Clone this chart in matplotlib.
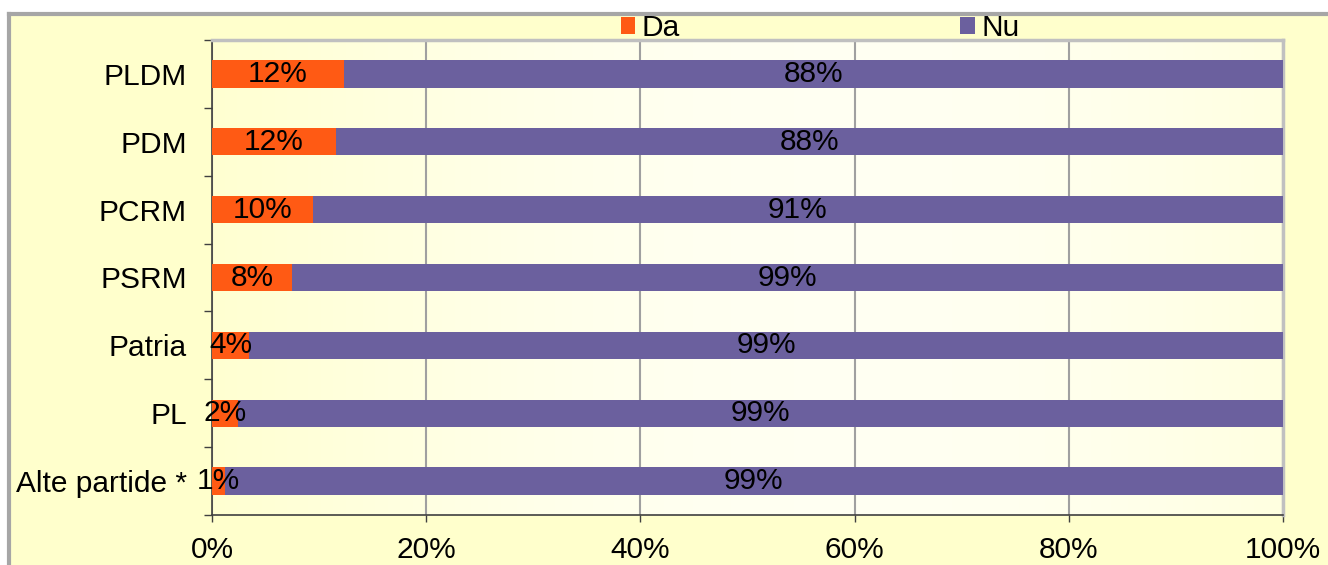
import matplotlib
matplotlib.use("Agg")
import matplotlib.pyplot as plt
import numpy as np
from matplotlib.lines import Line2D
from matplotlib.patches import Rectangle

plt.rcParams["font.family"] = ["Liberation Sans", "DejaVu Sans"]

# data, top row first
parties = ["PLDM", "PDM", "PCRM", "PSRM", "Patria", "PL", "Alte partide *"]
da_share = [12.3, 11.6, 9.4, 7.5, 3.5, 2.4, 1.2]
nu_share = [100 - v for v in da_share]
da_labels = ["12%", "12%", "10%", "8%", "4%", "2%", "1%"]
nu_labels = ["88%", "88%", "91%", "99%", "99%", "99%", "99%"]
x_ticks = [0, 20, 40, 60, 80, 100]

DA_COLOR = "#FF5A14"
NU_COLOR = "#6B609E"
BG_COLOR = "#FFFFCC"
FS = 21.5

W, H = 1328, 565
fig = plt.figure(figsize=(W / 100, H / 100), dpi=100, facecolor="white")

# outer chart area, its border only shows on the left and top
x0, y0 = 9 / W, 1 - 14 / H
fig.patches.append(Rectangle((x0, -0.05), 1.05 - x0, y0 + 0.05, transform=fig.transFigure,
                             facecolor=BG_COLOR, edgecolor="none", linewidth=0, zorder=-10))
fig.lines.append(Line2D([x0, x0], [-0.05, y0], transform=fig.transFigure,
                        color="#A6A6A6", linewidth=3, zorder=-9))
fig.lines.append(Line2D([x0, 1.05], [y0, y0], transform=fig.transFigure,
                        color="#A6A6A6", linewidth=3, zorder=-9))

ax = fig.add_axes([212 / W, 50 / H, (1283 - 212) / W, (515 - 40) / H])
ax.set_facecolor("none")

y = np.arange(len(parties))
ax.set_xlim(0, 100)
ax.set_ylim(len(parties) - 0.5, -0.5)

# light gradient behind the bars
grad = np.linspace(0, 1, 256)
b = 0.82 + 0.13 * np.sin(grad * np.pi * 0.85)
img = np.dstack([np.ones_like(grad), np.ones_like(grad), b])
ax.imshow(img, extent=[0, 100, len(parties) - 0.5, -0.5], aspect="auto", zorder=0)

bh = 0.4
bars_da = ax.barh(y, da_share, height=bh, color=DA_COLOR, label="Da", zorder=3)
bars_nu = ax.barh(y, nu_share, left=da_share, height=bh, color=NU_COLOR, label="Nu", zorder=3)
ax.bar_label(bars_da, labels=da_labels, label_type="center", fontsize=FS, zorder=4)
ax.bar_label(bars_nu, labels=nu_labels, label_type="center", fontsize=FS, zorder=4)

ax.set_xlim(0, 100)
ax.set_ylim(len(parties) - 0.5, -0.5)

ax.set_xticks(x_ticks)
ax.set_xticklabels([f"{t}%" for t in x_ticks], fontsize=FS)
ax.tick_params(axis="x", length=5, width=1, color="#404040", pad=10)
ax.xaxis.grid(True, color="#A0A0A0", linewidth=1.5, zorder=1)
ax.set_axisbelow(True)

ax.set_yticks(y)
ax.set_yticklabels(parties, fontsize=FS)
ax.tick_params(axis="y", length=0, pad=18)
ax.set_yticks(np.arange(len(parties) + 1) - 0.5, minor=True)
ax.tick_params(axis="y", which="minor", length=6, width=1, color="#404040")

for side in ["left", "bottom"]:
    ax.spines[side].set_color("#404040")
    ax.spines[side].set_linewidth(1.2)
for side in ["top", "right"]:
    ax.spines[side].set_color("#C0C0C0")
    ax.spines[side].set_linewidth(2.5)

fig.legend(handles=[bars_da, bars_nu], labels=["Da", "Nu"], ncol=2, loc="center",
           bbox_to_anchor=(820 / W, 1 - 28 / H), frameon=False, fontsize=FS,
           handlelength=0.5, handleheight=0.5, handletextpad=0.2,
           columnspacing=9.4, borderpad=0)

fig.savefig("out.png", dpi=100, facecolor=fig.get_facecolor())
